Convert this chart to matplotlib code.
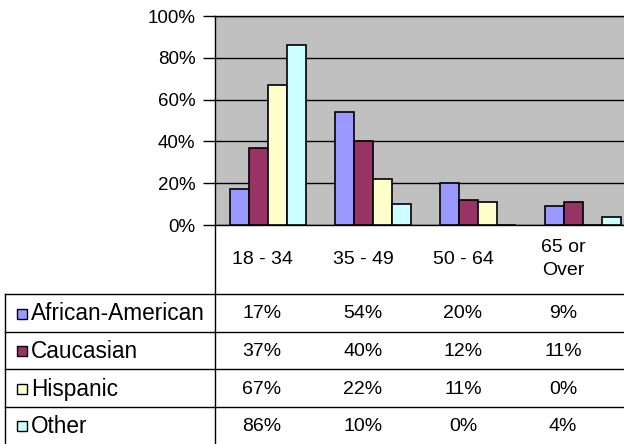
import numpy as np
import matplotlib
matplotlib.use('Agg')
import matplotlib.pyplot as plt
from matplotlib.lines import Line2D
from matplotlib.patches import Rectangle

plt.rcParams['font.family'] = ['Liberation Sans', 'DejaVu Sans']

# data
categories = ['18 - 34', '35 - 49', '50 - 64', '65 or\nOver']
groups = ['African-American', 'Caucasian', 'Hispanic', 'Other']
african_american = [17, 54, 20, 9]
caucasian = [37, 40, 12, 11]
hispanic = [67, 22, 11, 0]
other = [86, 10, 0, 4]
colors = ['#9999FF', '#993366', '#FFFFCC', '#CCFFFF']

W, H = 624, 444
series = [african_american, caucasian, hispanic, other]

def fx(x):  # pixel -> figure fraction
    return x / W

def fy(y):
    return 1 - y / H

fig = plt.figure(figsize=(W / 100, H / 100), dpi=100)
fig.patch.set_facecolor('white')

# plot area (right side runs past the picture edge)
ax = fig.add_axes([fx(215), fy(225), 420 / W, 209 / H])
ax.set_facecolor('#C0C0C0')

bw = 19 / 105.0
x = np.arange(len(categories))
for i, (vals, c) in enumerate(zip(series, colors)):
    ax.bar(x + (i - 1.5) * bw, vals, width=bw, color=c, edgecolor='black',
           linewidth=1.2, zorder=3)

ax.set_xlim(-0.5, len(categories) - 0.5)
ax.set_ylim(0, 100)
ax.set_yticks(np.arange(0, 101, 20))
ax.set_yticklabels(['%d%%' % v for v in range(0, 101, 20)], fontsize=13.5)
ax.yaxis.grid(True, color='black', linewidth=1.0, zorder=1)
ax.set_xticks([])
ax.tick_params(axis='y', length=9, width=1, pad=5, direction='out')
for s in ['left', 'bottom', 'top']:
    ax.spines[s].set_color('black')
    ax.spines[s].set_linewidth(1.0)
ax.spines['right'].set_visible(False)

# data table
lw = 1.0
fig.add_artist(Line2D([fx(215), fx(215)], [fy(225), fy(444)], color='black', lw=lw))
fig.add_artist(Line2D([fx(5), fx(5)], [fy(294), fy(444)], color='black', lw=lw))
row_lines = [294, 332, 369, 407]
for yl in row_lines:
    fig.add_artist(Line2D([fx(5), fx(624)], [fy(yl), fy(yl)], color='black', lw=lw))

col_x = [262, 363, 463, 563]
for cx, cat in zip(col_x, categories):
    fig.text(fx(cx), fy(259), cat, ha='center', va='center', fontsize=14,
             linespacing=1.45)

row_y = [314, 351, 389, 426]
for ry, name, vals, c in zip(row_y, groups, series, colors):
    fig.add_artist(Rectangle((fx(17), fy(ry + 5)), 10 / W, 10 / H, facecolor=c,
                             edgecolor='black', lw=1.0, transform=fig.transFigure))
    fig.text(fx(31), fy(ry), name, ha='left', va='center', fontsize=16.3)
    for cx, v in zip(col_x, vals):
        fig.text(fx(cx), fy(ry), '%d%%' % v, ha='center', va='center', fontsize=14)

fig.savefig('out.png', dpi=100)
